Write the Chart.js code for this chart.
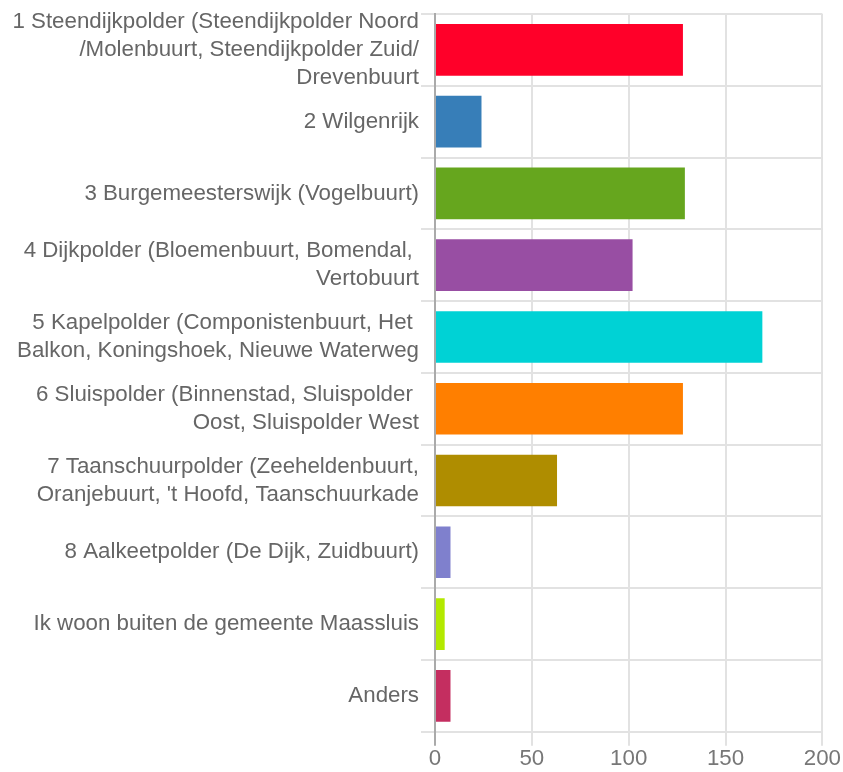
<!DOCTYPE html>
<html>
<head>
<meta charset="utf-8">
<script src="https://cdn.jsdelivr.net/npm/chart.js@4"></script>
<style>
    html, body { margin: 0; padding: 0; background: #fff; }
    #wrap { width: 843px; height: 772px; }
</style>
</head>
<body>
<div id="wrap"><canvas id="mainChart"></canvas></div>
<script>
// wijken (labels, meerregelig zoals in het origineel)
const wijken = [
    ['1 Steendijkpolder (Steendijkpolder Noord', '/Molenbuurt, Steendijkpolder Zuid/', 'Drevenbuurt'],
    '2 Wilgenrijk',
    '3 Burgemeesterswijk (Vogelbuurt)',
    ['4 Dijkpolder (Bloemenbuurt, Bomendal, ', 'Vertobuurt'],
    ['5 Kapelpolder (Componistenbuurt, Het ', 'Balkon, Koningshoek, Nieuwe Waterweg'],
    ['6 Sluispolder (Binnenstad, Sluispolder ', 'Oost, Sluispolder West'],
    ['7 Taanschuurpolder (Zeeheldenbuurt,', 'Oranjebuurt, \'t Hoofd, Taanschuurkade'],
    '8 Aalkeetpolder (De Dijk, Zuidbuurt)',
    'Ik woon buiten de gemeente Maassluis',
    'Anders'
];

// aantallen per wijk
const aantallen = [128, 24, 129, 102, 169, 128, 63, 8, 5, 8];

// kleuren per balk
const kleuren = ['#ff0029', '#377eb8', '#66a61e', '#984ea3', '#00d2d5',
                 '#ff7f00', '#af8d00', '#7f80cd', '#b3e900', '#c42e60'];

// x-as
const xMin = 0;
const xMax = 200;
const xStap = 50;

const fontFamily = '"Liberation Sans", Arial, sans-serif';
const ctx = document.getElementById('mainChart');

new Chart(ctx, {
    type: 'bar',
    data: {
        labels: wijken,
        datasets: [{
            data: aantallen,
            backgroundColor: kleuren,
            borderWidth: 0
        }]
    },
    options: {
        indexAxis: 'y',
        responsive: true,
        maintainAspectRatio: false,
        animation: false,
        layout: { padding: { top: 14, left: 0, right: 0, bottom: 0 } },
        plugins: {
            legend: { display: false },
            tooltip: { enabled: false }
        },
        scales: {
            x: {
                min: xMin,
                max: xMax,
                ticks: {
                    stepSize: xStap,
                    color: '#777',
                    padding: 2,
                    font: { family: fontFamily, size: 22.3, lineHeight: 1.0 }
                },
                grid: {
                    color: (c) => c.tick && c.tick.value === 0 ? '#aaa' : '#e2e2e2',
                    lineWidth: 2,
                    tickLength: 14
                },
                border: { color: '#e2e2e2', width: 2 }
            },
            y: {
                // vaste breedte voor de labels, geen extra padding boven/onder
                afterFit: (scale) => {
                    scale.width = 435;
                    scale.paddingTop = 0;
                    scale.paddingBottom = 0;
                },
                ticks: {
                    autoSkip: false,
                    color: '#666',
                    padding: 2,
                    font: { family: fontFamily, size: 22.3, lineHeight: 1.25 }
                },
                grid: {
                    color: '#e2e2e2',
                    lineWidth: 2,
                    tickLength: 14
                },
                border: { color: '#aaa', width: 2 }
            }
        }
    }
});
</script>
</body>
</html>
